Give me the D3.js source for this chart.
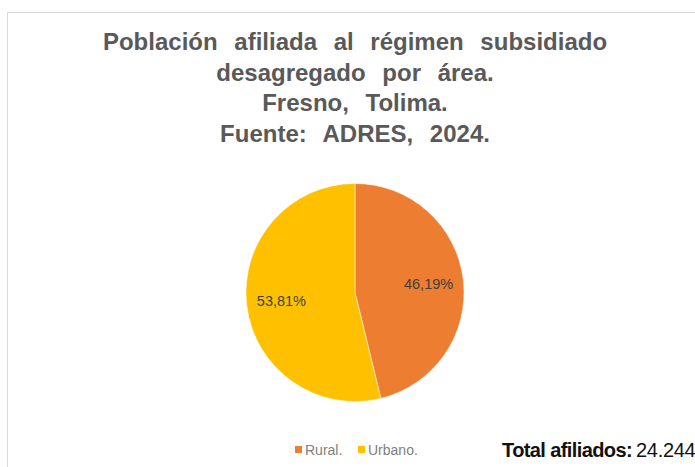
<!DOCTYPE html>
<html><head><meta charset="utf-8">
<script src="https://cdn.jsdelivr.net/npm/d3@7"></script>
<style>body{margin:0;background:#fff;}svg{display:block;}</style>
</head><body>
<script>
const titleLines = ["Población afiliada al régimen subsidiado","desagregado por área.","Fresno, Tolima.","Fuente: ADRES, 2024."];
const categories = ["Rural.","Urbano."];
const values = [46.19, 53.81];
const labels = ["46,19%","53,81%"];
const colors = ["#ED7D31","#FFC000"];
const totalLabel = "Total afiliados:";
const totalValue = "24.244";

const W=695,H=467;
const font="Liberation Sans, Arial, sans-serif";
const svg=d3.select("body").append("svg").attr("width",W).attr("height",H);
svg.append("rect").attr("x",7.5).attr("y",12.5).attr("width",700).attr("height",470)
  .attr("fill","#fff").attr("stroke","#d9d9d9").attr("stroke-width",1);

svg.selectAll("text.title").data(titleLines).join("text").attr("class","title")
  .attr("x",355).attr("y",(d,i)=>50+i*30.5).attr("text-anchor","middle")
  .attr("font-family",font).attr("font-weight","bold")
  .attr("font-size",24).attr("word-spacing",10).attr("fill","#595959").text(d=>d);

const cx=355,cy=292.5,r=109;
const pie=d3.pie().sort(null).value(d=>d)(values);
const arc=d3.arc().innerRadius(0).outerRadius(r);
const g=svg.append("g").attr("transform",`translate(${cx},${cy})`);
g.selectAll("path").data(pie).join("path").attr("d",arc).attr("fill",(d,i)=>colors[i])
  .attr("stroke","#fff").attr("stroke-width",0.5);
const lab=d3.arc().innerRadius(r*0.68).outerRadius(r*0.68);
g.selectAll("text").data(pie).join("text")
  .attr("transform",d=>`translate(${lab.centroid(d)})`)
  .attr("text-anchor","middle").attr("dy","0.35em")
  .attr("font-family",font).attr("font-size",14.5)
  .attr("fill","#404040").text((d,i)=>labels[i]);

const legX=[295,358];
const lg=svg.append("g");
categories.forEach((c,i)=>{
  lg.append("rect").attr("x",legX[i]).attr("y",446).attr("width",7).attr("height",7).attr("fill",colors[i]);
  lg.append("text").attr("x",legX[i]+10).attr("y",455).attr("font-family",font)
    .attr("font-size",14).attr("fill","#808080").text(c);
});
const t=svg.append("text").attr("x",502).attr("y",457).attr("font-family",font)
  .attr("font-size",20).attr("fill","#111");
t.append("tspan").attr("font-weight","bold").attr("letter-spacing",-0.6).text(totalLabel);
t.append("tspan").attr("dx",4).attr("letter-spacing",-0.3).text(totalValue);
</script>
</body></html>
